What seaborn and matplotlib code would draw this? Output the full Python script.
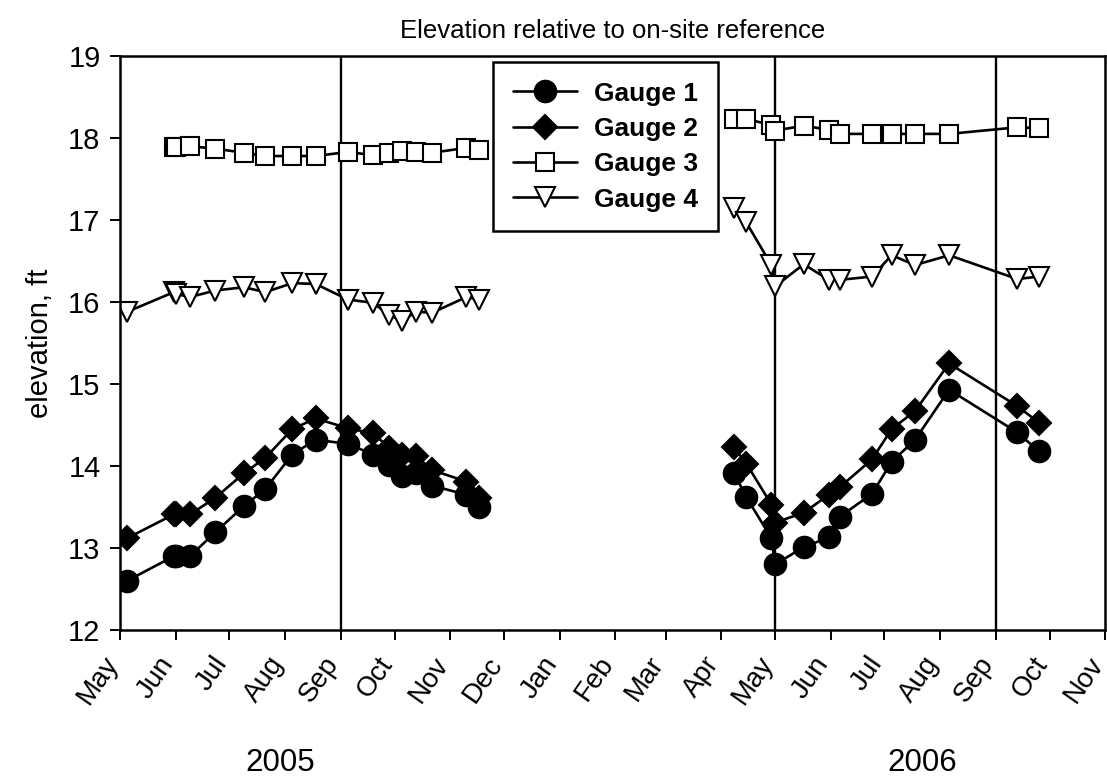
import matplotlib
matplotlib.use("Agg")
import matplotlib.pyplot as plt
import matplotlib.dates as mdates
import matplotlib.transforms as mtransforms
from matplotlib.lines import Line2D
import numpy as np
import pandas as pd
import seaborn as sns

# Survey dates (two field seasons)
dates_2005 = ["2005-05-05", "2005-05-31", "2005-06-01", "2005-06-09", "2005-06-23",
              "2005-07-09", "2005-07-21", "2005-08-05", "2005-08-18", "2005-09-05",
              "2005-09-19", "2005-09-28", "2005-10-05", "2005-10-13", "2005-10-22",
              "2005-11-10", "2005-11-17"]
dates_2006 = ["2006-04-08", "2006-04-15", "2006-04-29", "2006-05-01", "2006-05-17",
              "2006-05-31", "2006-06-06", "2006-06-24", "2006-07-05", "2006-07-18",
              "2006-08-06", "2006-09-13", "2006-09-25"]

# Elevations, ft (None = not surveyed that day)
gauge1_2005 = [12.60, 12.90, 12.90, 12.90, 13.19, 13.51, 13.72, 14.14, 14.32, 14.27,
               14.14, 14.01, 13.88, 13.91, 13.76, 13.65, 13.50]
gauge1_2006 = [13.92, 13.62, 13.12, 12.80, 13.01, 13.13, 13.38, 13.66, 14.05, 14.32,
               14.93, 14.41, 14.18]
gauge2_2005 = [13.12, 13.41, 13.41, 13.41, 13.61, 13.91, 14.10, 14.45, 14.58, 14.46,
               14.40, 14.22, 14.14, 14.12, 13.95, 13.81, 13.61]
gauge2_2006 = [14.23, 14.03, 13.53, 13.31, 13.43, 13.65, 13.74, 14.08, 14.45, 14.67,
               15.25, 14.73, 14.53]
gauge3_2005 = [None, 17.89, 17.89, 17.90, 17.87, 17.82, 17.78, 17.78, 17.78, 17.83,
               17.79, 17.82, 17.84, 17.83, 17.82, 17.88, 17.85]
gauge3_2006 = [18.23, 18.23, 18.16, 18.09, 18.15, 18.10, 18.05, 18.05, 18.05, 18.05,
               18.05, 18.13, 18.12]
gauge4_2005 = [15.88, 16.12, 16.10, 16.06, 16.14, 16.18, 16.12, 16.23, 16.22, 16.03,
               15.99, 15.84, 15.77, 15.88, 15.87, 16.06, 16.03]
gauge4_2006 = [17.15, 16.97, 16.45, 16.19, 16.46, 16.27, 16.27, 16.31, 16.57, 16.45,
               16.57, 16.28, 16.31]

gauges = ["Gauge 1", "Gauge 2", "Gauge 3", "Gauge 4"]
values = {
    "Gauge 1": (gauge1_2005, gauge1_2006),
    "Gauge 2": (gauge2_2005, gauge2_2006),
    "Gauge 3": (gauge3_2005, gauge3_2006),
    "Gauge 4": (gauge4_2005, gauge4_2006),
}
month_labels = ["May", "Jun", "Jul", "Aug", "Sep", "Oct", "Nov", "Dec", "Jan", "Feb",
                "Mar", "Apr", "May", "Jun", "Jul", "Aug", "Sep", "Oct", "Nov"]
divider_dates = ["2005-09-01", "2006-05-01", "2006-09-01"]
year_labels = ["2005", "2006"]

rows = []
for g in gauges:
    for season, (d_list, v_list) in zip(["2005", "2006"],
                                        [(dates_2005, values[g][0]),
                                         (dates_2006, values[g][1])]):
        for d, v in zip(d_list, v_list):
            if v is None:
                continue
            rows.append({"date": pd.Timestamp(d), "elevation": v,
                         "gauge": g, "season": season})
df = pd.DataFrame(rows)

sns.set_theme(style="ticks")
plt.rcParams["font.family"] = ["Liberation Sans", "DejaVu Sans"]
plt.rcParams.update({"text.color": "black", "axes.labelcolor": "black",
                     "xtick.color": "black", "ytick.color": "black"})

LW = 1.9
MEW = 1.5
styles = {
    "Gauge 1": dict(marker="o", markersize=15.5, markerfacecolor="black"),
    "Gauge 2": dict(marker="D", markersize=12, markerfacecolor="black"),
    "Gauge 3": dict(marker="s", markersize=12.5, markerfacecolor="white"),
    "Gauge 4": dict(marker="v", markersize=14.5, markerfacecolor="white"),
}

fig = plt.figure(figsize=(11.07, 7.83), dpi=100)
ax = fig.add_axes([0.1084, 0.1954, 0.8900, 0.7331])

for g in gauges:
    sub = df[df["gauge"] == g]
    sns.lineplot(data=sub, x="date", y="elevation", units="season", estimator=None,
                 color="black", linewidth=LW, markeredgecolor="black",
                 markeredgewidth=MEW, ax=ax, legend=False, **styles[g])

for d in divider_dates:
    ax.axvline(pd.Timestamp(d), color="black", linewidth=1.7, zorder=1)

ax.set_xlim(pd.Timestamp("2005-05-01"), pd.Timestamp("2006-11-01"))
ax.set_ylim(12, 19)
ax.set_yticks(np.arange(12, 20, 1))
ax.tick_params(axis="y", labelsize=21, length=7, width=1.4, direction="out", pad=7)

ax.xaxis.set_major_locator(mdates.MonthLocator())
ticks = ax.get_xticks()
ax.set_xticks(ticks)
ax.set_xticklabels(month_labels[:len(ticks)], rotation=55, ha="right", va="center",
                   rotation_mode="anchor", fontsize=20)
ax.tick_params(axis="x", length=7, width=1.4, direction="out", pad=14)
shift = mtransforms.ScaledTranslation(-7 / 100, 0, fig.dpi_scale_trans)
for lbl in ax.get_xticklabels():
    lbl.set_transform(lbl.get_transform() + shift)

for side in ["top", "right", "left", "bottom"]:
    ax.spines[side].set_visible(True)
    ax.spines[side].set_linewidth(1.8)
    ax.spines[side].set_color("black")

ax.set_xlabel("")
ax.set_ylabel("elevation, ft", fontsize=21, labelpad=10)
ax.set_title("Elevation relative to on-site reference", fontsize=18.5, pad=13)

fig.text(280 / 1107, 1 - 763 / 783, year_labels[0], fontsize=22.5,
         ha="center", va="center")
fig.text(922 / 1107, 1 - 763 / 783, year_labels[1], fontsize=22.5,
         ha="center", va="center")

handles = [Line2D([], [], color="black", linewidth=LW, markeredgecolor="black",
                  markeredgewidth=MEW, **styles[g]) for g in gauges]
leg = ax.legend(handles, gauges, loc="upper left", bbox_to_anchor=(0.379, 0.99),
                borderaxespad=0, frameon=True, fancybox=False, handlelength=2.4,
                prop={"weight": "bold", "size": 19}, labelspacing=0.43,
                borderpad=0.75, handletextpad=0.65, edgecolor="black")
leg.get_frame().set_linewidth(1.8)
leg.get_frame().set_alpha(1)

fig.savefig("out.png", dpi=100)
